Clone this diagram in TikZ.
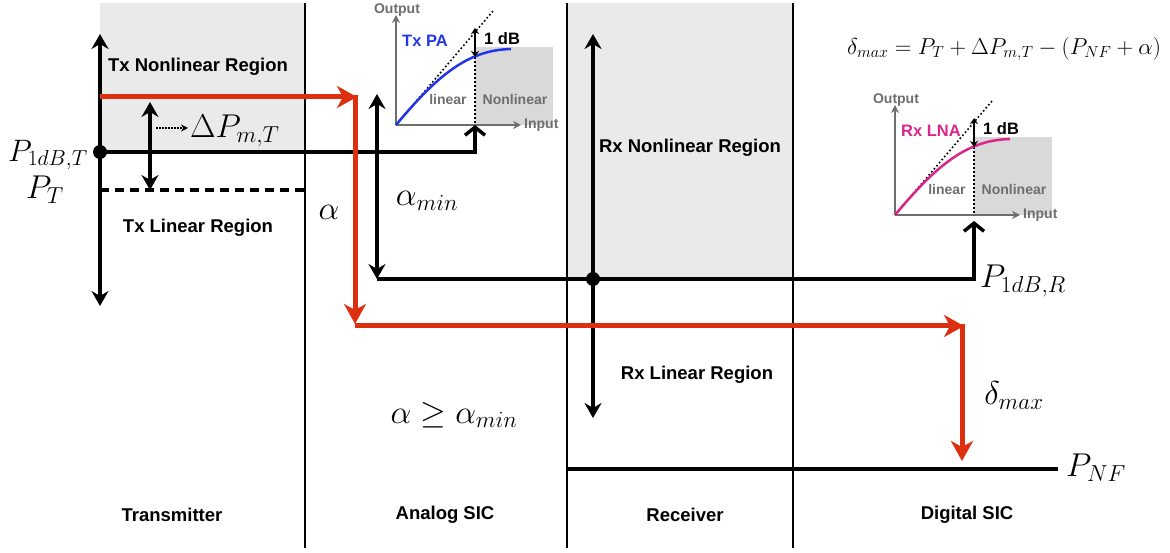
\RequirePackage{fix-cm}
\documentclass[tikz,border=0pt]{standalone}
\usepackage{fontspec}
\setmainfont{Liberation Sans}
\usetikzlibrary{arrows.meta}
\definecolor{regiongray}{HTML}{EAEAEA}
\definecolor{graphgray}{HTML}{D9D9D9}
\definecolor{axisgray}{HTML}{6E6E6E}
\definecolor{sicred}{HTML}{DD3010}
\definecolor{pablue}{HTML}{2236E8}
\definecolor{lnapink}{HTML}{D9268A}
\tikzset{
 region/.style={fill=regiongray, draw=none},
 divider/.style={line width=2.6pt},
 blk/.style={line width=3.5pt},
 dbl/.style={blk, {Stealth[length=15pt,width=17pt,inset=5pt]}-{Stealth[length=15pt,width=17pt,inset=5pt]}},
 redarrow/.style={sicred, line width=5pt, -{Stealth[length=20pt,width=22pt,inset=6pt]}},
 chev/.style={blk, -{Straight Barb[length=8pt,width=20pt,line width=3.5pt]}},
 biglabel/.style={font=\bfseries\fontsize{18.5}{20}\selectfont},
 mathlabel/.style={font=\fontsize{33}{38}\selectfont, inner sep=0pt},
 eqlabel/.style={font=\fontsize{23}{27}\selectfont, inner sep=0pt},
 glabel/.style={font=\bfseries\fontsize{14}{16}\selectfont, text=axisgray, inner sep=0pt},
 curvelabel/.style={font=\bfseries\fontsize{16.5}{18}\selectfont, anchor=west, inner sep=0pt},
 dot/.style={circle, fill=black, inner sep=0pt, minimum size=14pt},
 thinarrow/.style={line width=1.6pt, {Stealth[length=6pt,width=8pt]}-{Stealth[length=6pt,width=8pt]}},
 dotline/.style={line width=1.6pt, dash pattern=on 1.6pt off 2.4pt},
 axis/.style={axisgray, line width=1.8pt, -{Stealth[length=8pt,width=8pt]}},
}
% #1 origin, #2 colour, #3 label, #4 name prefix
\newcommand\AmpGraph[4]{%
\begin{scope}[shift={#1}]
 \fill[graphgray] (79,-78) rectangle (157,0);
 \coordinate (#4-o) at (0,0);
 \coordinate (#4-p1) at (79,0);
 \coordinate (#4-c) at (79,-68);
 \coordinate (#4-top) at (79,-97);
 \coordinate (#4-ytip) at (0,-110);
 \coordinate (#4-xtip) at (125,0);
 \coordinate (#4-diag) at (97,-114);
 \draw[axis] (#4-o) -- (#4-ytip);
 \draw[axis] (#4-o) -- (#4-xtip);
 \node[glabel] (#4-out) at (1,-115) {Output};
 \node[glabel, anchor=west] (#4-in) at (128,0) {Input};
 \draw[dotline] (#4-o) -- (#4-diag);
 \draw[dotline] (#4-c) -- (#4-p1);
 \draw[#2, line width=2.5pt] (#4-o) .. controls (44,-53) and (74,-75) .. (115,-76);
 \draw[thinarrow] (#4-top) -- (#4-c);
 \node[curvelabel, text=#2] (#4-name) at (6,-84) {#3};
 \node[curvelabel] (#4-db) at (88,-86) {1 dB};
 \node[glabel] (#4-lin) at (52,-26) {linear};
 \node[glabel] (#4-nl) at (119,-26) {Nonlinear};
\end{scope}}
\begin{document}
\begin{tikzpicture}[x=1pt,y=-1pt]
\useasboundingbox (0,0) rectangle (1170,553);
% regions
\fill[region] (100,3) rectangle (305,152);
\fill[region] (567,3) rectangle (793,279);
% dividers
\coordinate (d1t) at (305,3); \coordinate (d1b) at (305,548);
\coordinate (d2t) at (567,3); \coordinate (d2b) at (567,548);
\coordinate (d3t) at (793,3); \coordinate (d3b) at (793,548);
\draw[divider] (d1t) -- (d1b);
\draw[divider] (d2t) -- (d2b);
\draw[divider] (d3t) -- (d3b);
% graphs
\AmpGraph{(396,125)}{pablue}{Tx PA}{tx}
\AmpGraph{(895,215)}{lnapink}{Rx LNA}{rx}
% Tx side
\coordinate (txtop) at (100,34); \coordinate (txbot) at (100,306);
\draw[dbl] (txtop) -- (txbot);
\node[dot] (p1t) at (100,152) {};
\draw[chev] (p1t.center) -| (tx-p1);
\coordinate (dpt) at (150,102); \coordinate (dpb) at (150,190);
\draw[dbl] (dpt) -- (dpb);
\coordinate (ptl) at (100,190); \coordinate (ptr) at (305,190);
\draw[blk, dash pattern=on 9pt off 6pt] (ptl) -- (ptr);
\node[mathlabel, anchor=west] (dpm) at (190,131) {$\Delta P_{m,T}$};
\coordinate (dps) at (156,128);
\coordinate (dpe) at (188,128);
\draw[line width=1.5pt, dash pattern=on 1.5pt off 1.5pt, -{Stealth[length=7pt,width=7pt]}] (dps) -- (dpe);
% alpha_min and Rx line
\coordinate (amt) at (377,94); \coordinate (amb) at (377,279);
\draw[dbl] (amt) -- (amb);
\draw[chev, shorten >=6pt] (amb) -| (rx-p1);
% Rx side
\coordinate (rxtop) at (593,34); \coordinate (rxbot) at (593,418);
\draw[dbl] (rxtop) -- (rxbot);
\node[dot] (p1r) at (593,279) {};
\coordinate (nfl) at (567,469); \coordinate (nfr) at (1058,469);
\draw[line width=4pt] (nfl) -- (nfr);
% red path
\coordinate (r0) at (100,97); \coordinate (r1) at (357,97);
\coordinate (r1b) at (355,95); \coordinate (r2) at (355,324);
\coordinate (r2b) at (355,326); \coordinate (r3) at (964,326);
\coordinate (r3b) at (962,324); \coordinate (r4) at (962,461);
\draw[redarrow] (r0) -- (r1);
\draw[redarrow] (r1b) -- (r2);
\draw[redarrow] (r2b) -- (r3);
\draw[redarrow] (r3b) -- (r4);
% text labels
\node[biglabel] (txnl) at (198,67) {Tx Nonlinear Region};
\node[biglabel] (txl) at (198,228) {Tx Linear Region};
\node[biglabel] (rxnl) at (690,148) {Rx Nonlinear Region};
\node[biglabel] (rxl) at (697,375) {Rx Linear Region};
\node[biglabel] (lab1) at (172,515) {Transmitter};
\node[biglabel] (lab2) at (445,515) {Analog SIC};
\node[biglabel] (lab3) at (685,515) {Receiver};
\node[biglabel] (lab4) at (967,515) {Digital SIC};
% math labels
\node[mathlabel, font=\fontsize{31}{36}\selectfont] (p1dbt) at (48,155) {$P_{1dB,T}$};
\node[mathlabel] (pt) at (45,190) {$P_T$};
\node[mathlabel] (alpha) at (329,212) {$\alpha$};
\node[mathlabel] (amin) at (427,201) {$\alpha_{min}$};
\node[mathlabel] (cond) at (454,415) {$\alpha \geq \alpha_{min}$};
\node[mathlabel] (p1dbr) at (1023,281) {$P_{1dB,R}$};
\node[mathlabel] (dmax) at (1014,396) {$\delta_{max}$};
\node[mathlabel, anchor=west] (pnf) at (1066,468) {$P_{NF}$};
\node[eqlabel] (eq) at (1004,49) {$\delta_{max} = P_T + \Delta P_{m,T} - (P_{NF} + \alpha)$};
\end{tikzpicture}
\end{document}
